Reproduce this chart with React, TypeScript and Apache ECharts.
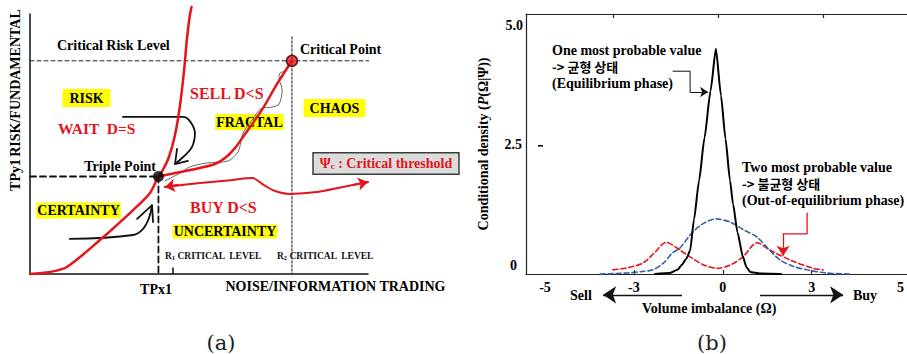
import React, { useEffect, useRef } from 'react';
import * as echarts from 'echarts';

type Pt = [number, number];

// ---------- Panel (b): conditional density of the volume imbalance ----------
const xTickLabels = ['-5', '-3', '0', '3', '5'];
const yTickValues = [0, 2.5, 5];
const yTickLabels = ['0', '2.5', '5.0'];
const topTickValues = [-3.5, 0, 3.5];

// one most probable value (equilibrium phase)
const equilibrium: Pt[] = [
  [-2.1, 0], [-1.6, 0.02], [-1.35, 0.08], [-1.2, 0.18], [-1.05, 0.3], [-0.93, 0.45],
  [-0.8, 1.05], [-0.63, 1.8], [-0.45, 2.62], [-0.25, 3.52], [-0.07, 4.33], [0.1, 3.43],
  [0.25, 2.6], [0.4, 1.8], [0.5, 1.35], [0.65, 0.8], [0.83, 0.33], [0.95, 0.13],
  [1.07, 0.04], [1.4, 0.01], [2.1, 0],
];
// wide single-peaked density
const unimodal: Pt[] = [
  [-3.93, 0], [-3.0, 0.02], [-2.5, 0.05], [-2.17, 0.08], [-1.8, 0.22], [-1.53, 0.4],
  [-1.27, 0.5], [-0.93, 0.75], [-0.55, 0.95], [-0.07, 1.06], [0.4, 1.0], [0.85, 0.85],
  [1.3, 0.71], [1.7, 0.47], [2.07, 0.27], [2.5, 0.15], [2.97, 0.08], [3.6, 0.02], [4.4, 0],
];
// two most probable values (out-of-equilibrium phase)
const bimodal: Pt[] = [
  [-3.5, 0.08], [-3.03, 0.12], [-2.5, 0.21], [-2.1, 0.42], [-1.73, 0.61], [-1.27, 0.46],
  [-0.93, 0.33], [-0.5, 0.18], [-0.03, 0.11], [0.4, 0.17], [0.83, 0.33], [1.3, 0.6],
  [1.73, 0.46], [2.4, 0.27], [3.17, 0.11], [3.5, 0.08],
];
const equilibriumNote: Pt[] = [[-1.5, 3.9], [-0.93, 3.9], [-0.93, 3.5]];
const equilibriumNoteTip: Pt[] = [[-0.93, 3.5], [-0.33, 3.5]];
const bimodalNote: Pt[] = [[2.97, 1.17], [2.97, 0.77], [2.17, 0.77]];
const bimodalNoteTip: Pt[] = [[2.17, 0.77], [2.17, 0.35]];
const sellArrow: Pt[] = [[-1.2, -0.4], [-3.83, -0.4]];
const buyArrow: Pt[] = [[1.4, -0.4], [4.17, -0.4]];

// ---------- Panel (a): phase diagram (noise/information trading vs risk), 0-100 ----------
const triplePoint: Pt = [38, 37.5];
const criticalPoint: Pt = [77.5, 82];
const criticalRiskLevel = 82;
const r1Level = 42.3;
const certaintyBoundary: Pt[] = [
  [0, 0], [5.9, 0.8], [10.9, 2.7], [20.7, 13.1], [30.5, 24.6], [35.5, 31.2], [38, 37.5],
  [39.3, 40], [41.1, 45], [42.9, 53.5], [44.4, 65], [45.6, 78.5], [46.4, 90], [47.3, 99.6],
  [47.8, 102.7],
];
const chaosBoundary: Pt[] = [
  [38, 37.5], [44.4, 39.2], [50.3, 40.8], [54.7, 42.3], [57.7, 44.6], [60.7, 48.5],
  [63, 52.7], [68.6, 63.1], [73.1, 73.1], [77.5, 82],
];
const fractalPath: Pt[] = [
  [39.9, 35.8], [44.4, 38.8], [47.3, 41.2], [52.4, 42.7], [58.6, 43.5], [61.5, 46.9],
  [62.4, 50.8], [63, 54.2], [65.7, 59.2], [68.6, 63.8], [71.6, 64.2], [73.7, 65.4],
  [74.6, 70.8], [73.7, 75.4], [74, 77.3], [75.4, 78.1], [76.9, 80.8],
];
const thresholdPath: Pt[] = [
  [39.9, 33.5], [50.3, 35], [60.1, 36.2], [65.7, 36.9], [69.2, 34.2], [72.5, 31.9],
  [76.9, 30.8], [84.9, 31.5], [92.6, 33.5], [100, 35.4],
];
const thresholdTipOut: Pt[] = [[95.5, 34.2], [100, 35.4]];
const thresholdTipIn: Pt[] = [[44, 34.3], [39.9, 33.5]];
const waitArrow: Pt[] = [[27.5, 60.4], [45.3, 60.4], [47.3, 58.8], [48.8, 54.2], [47.9, 48.8], [45.3, 45], [42.9, 42.3]];
const waitArrowHead: Pt[] = [[43.5, 48.1], [42.9, 42.3], [46.7, 43.5]];
const certaintyArrow: Pt[] = [[11.8, 13.5], [30.5, 15], [33.4, 17.3], [35.2, 21.5], [36.1, 26.5]];
const certaintyArrowHead: Pt[] = [[31.7, 21.2], [36.1, 26.5], [36.4, 20]];

const SERIF = "'Liberation Serif', serif";
const KR = "'Noto Sans CJK KR', sans-serif";
const DSERIF = "'DejaVu Serif', serif";
const RED = '#e3151b';
const YELLOW = '#ffff00';
const BLUE = '#3a5ea8';

// density axis range: 30 px per unit of imbalance
const densityMin = -6.4;
const densityMax = 6.3;

type TxtOpts = {
  fill?: string; size?: number; weight?: string; family?: string; align?: string;
  rotation?: number; bg?: string; pad?: number[]; rich?: any;
};
const txt = (text: string, x: number, y: number, o: TxtOpts = {}) => ({
  type: 'text',
  x,
  y,
  silent: true,
  rotation: o.rotation ?? 0,
  style: {
    text,
    fill: o.fill ?? '#000',
    fontSize: o.size ?? 14,
    fontWeight: o.weight ?? 'bold',
    fontFamily: o.family ?? SERIF,
    align: o.align ?? 'left',
    verticalAlign: 'middle',
    backgroundColor: o.bg,
    padding: o.pad,
    rich: o.rich,
  },
});

const line = (data: Pt[], color: string, width: number, axis: number, extra: any = {}) => ({
  type: 'line',
  xAxisIndex: axis,
  yAxisIndex: axis,
  data,
  symbol: 'none',
  silent: true,
  clip: false,
  smooth: extra.smooth ?? 0,
  smoothMonotone: extra.smoothMonotone,
  lineStyle: { color, width, type: extra.dash ?? 'solid', cap: 'round' },
  z: extra.z ?? 2,
});

const arrow = (coords: Pt[], color: string, width: number, size: number, axis: number) => ({
  type: 'lines',
  coordinateSystem: 'cartesian2d',
  xAxisIndex: axis,
  yAxisIndex: axis,
  silent: true,
  clip: false,
  symbol: ['none', 'arrow'],
  symbolSize: size,
  lineStyle: { color, width, opacity: 1, curveness: 0 },
  data: [{ coords }],
  z: 3,
});

const hidden = { show: false };
const subRich = {
  a: { fontSize: 9.5, fontWeight: 'bold', fontFamily: SERIF, fill: '#111' },
  b: { fontSize: 6.5, fontWeight: 'bold', fontFamily: SERIF, fill: '#111', verticalAlign: 'bottom' },
};

export default function App() {
  const ref = useRef<HTMLDivElement>(null);

  useEffect(() => {
    if (!ref.current) return;
    const chart = echarts.init(ref.current, undefined, { renderer: 'svg' });

    const labelStyle = { fontSize: 14, fontWeight: 'bold', fontFamily: SERIF, color: '#000' };
    const labelRich = {
      hi: { ...labelStyle, padding: [22, 0, 0, 0] },
      md: { ...labelStyle, padding: [0, 1, 0, 0] },
      lo: { ...labelStyle, padding: [0, 6, 18, 0] },
    };
    const tokens = ['lo', 'md', 'hi'];
    const frameLine = { show: true, onZero: false, lineStyle: { color: '#222', width: 1.2 } };

    const option: any = {
      animation: false,
      backgroundColor: '#ffffff',
      grid: [
        { left: 30, top: 14, width: 338, height: 260 },
        { left: 526, top: 14, width: 381, height: 260 },
        { left: 545, top: 14, width: 360, height: 260 },
      ],
      xAxis: [
        {
          gridIndex: 0, type: 'value', min: 0, max: 100,
          axisLine: { show: true, onZero: false, lineStyle: { color: '#111', width: 1.5 } },
          axisTick: hidden, axisLabel: hidden, splitLine: hidden,
        },
        {
          gridIndex: 1, type: 'value', min: densityMin, max: densityMax, position: 'top',
          axisLine: frameLine,
          axisTick: { show: true, inside: true, length: 4, customValues: topTickValues, lineStyle: { color: '#222', width: 1.2 } },
          axisLabel: hidden, splitLine: hidden,
        },
        {
          gridIndex: 2, type: 'category', data: xTickLabels, boundaryGap: false, position: 'bottom',
          axisLine: hidden,
          axisTick: {
            show: true, inside: true, length: 4,
            interval: (i: number) => i > 0 && i < xTickLabels.length - 1,
            lineStyle: { color: '#222', width: 1.2 },
          },
          axisLabel: { interval: 0, margin: 6, ...labelStyle },
          splitLine: hidden,
        },
        {
          gridIndex: 1, type: 'value', min: densityMin, max: densityMax, position: 'bottom',
          axisLine: frameLine, axisTick: hidden, axisLabel: hidden, splitLine: hidden,
        },
      ],
      yAxis: [
        {
          gridIndex: 0, type: 'value', min: 0, max: 100,
          axisLine: { show: true, onZero: false, lineStyle: { color: '#111', width: 1.5 } },
          axisTick: hidden, axisLabel: hidden, splitLine: hidden,
        },
        {
          gridIndex: 1, type: 'value', min: 0, max: 5,
          axisLine: frameLine,
          axisTick: hidden, splitLine: hidden,
          axisLabel: {
            customValues: yTickValues,
            margin: 3,
            formatter: (v: number) => {
              const i = yTickValues.indexOf(v);
              return `{${tokens[i]}|${yTickLabels[i]}}`;
            },
            rich: labelRich,
          },
          name: 'Conditional density ({i|P}(Ω|Ψ))',
          nameLocation: 'middle',
          nameRotate: 90,
          nameGap: 36,
          nameTextStyle: {
            ...labelStyle,
            rich: { i: { ...labelStyle, fontStyle: 'italic' } },
          },
        },
        { gridIndex: 2, type: 'value', show: false },
      ],
      series: [
        // ----- panel (a) -----
        line([[0, criticalRiskLevel], [101, criticalRiskLevel]], '#222', 1, 0, { dash: [4, 3] }),
        line([[criticalPoint[0], 91.2], [criticalPoint[0], 0]], '#333', 1.2, 0, { dash: [2, 2] }),
        line([[0, triplePoint[1]], triplePoint], '#111', 1.8, 0, { dash: [6, 4] }),
        line([triplePoint, [triplePoint[0], 0]], '#111', 1.8, 0, { dash: [6, 4] }),
        line([[r1Level, 0], [r1Level, 2.3]], '#111', 1.5, 0),
        line(fractalPath, '#666', 1, 0, { smooth: 0.3 }),
        line(certaintyBoundary, RED, 2.5, 0, { smooth: 0.3, z: 3 }),
        line(chaosBoundary, RED, 2.5, 0, { smooth: 0.3, z: 3 }),
        line(thresholdPath, RED, 2, 0, { smooth: 0.35, z: 3 }),
        arrow(thresholdTipOut, RED, 2, 10, 0),
        arrow(thresholdTipIn, RED, 2, 10, 0),
        line(waitArrow, '#111', 1.8, 0, { smooth: 0.4 }),
        line(waitArrowHead, '#111', 1.8, 0),
        line(certaintyArrow, '#111', 1.8, 0, { smooth: 0.4 }),
        line(certaintyArrowHead, '#111', 1.8, 0),
        {
          type: 'scatter', xAxisIndex: 0, yAxisIndex: 0, data: [triplePoint], symbolSize: 11,
          silent: true, itemStyle: { color: '#000' }, z: 5,
        },
        {
          type: 'scatter', xAxisIndex: 0, yAxisIndex: 0, data: [criticalPoint], symbolSize: 11,
          silent: true, itemStyle: { color: RED, borderColor: '#2a0000', borderWidth: 1.5 }, z: 5,
        },
        // ----- panel (b) -----
        line(bimodal, RED, 1.6, 1, { dash: [5, 3], smooth: 0.3 }),
        line(unimodal, BLUE, 1.6, 1, { dash: [5, 3], smooth: 0.3 }),
        line(equilibrium, '#000', 2, 1, { smooth: 0.2, smoothMonotone: 'x', z: 4 }),
        line(equilibriumNote, '#111', 1, 1),
        arrow(equilibriumNoteTip, '#111', 1, 8, 1),
        line(bimodalNote, RED, 1.3, 1),
        arrow(bimodalNoteTip, RED, 1.3, 10, 1),
        arrow(sellArrow, '#111', 1.3, 13, 1),
        arrow(buyArrow, '#111', 1.3, 13, 1),
      ],
      graphic: {
        elements: [
          // panel (a) texts
          txt('RISK/FUNDAMENTAL', 15, 83, { align: 'center', rotation: Math.PI / 2 }),
          txt('TPy1', 15, 175, { align: 'center', rotation: Math.PI / 2 }),
          txt('Critical Risk Level', 57, 45),
          txt('Critical Point', 300, 49),
          txt('RISK', 86.5, 98, { align: 'center', bg: YELLOW, pad: [2, 7] }),
          txt('WAIT  D=S', 58, 128, { fill: RED, size: 15.5 }),
          txt('SELL D<S', 190, 93, { fill: RED, size: 16 }),
          txt('FRACTAL', 249.5, 122, { align: 'center', bg: YELLOW, pad: [1, 1] }),
          txt('CHAOS', 334.5, 108, { align: 'center', bg: YELLOW, pad: [2, 6] }),
          txt('Triple Point', 156, 166, { align: 'right' }),
          {
            type: 'text', x: 386, y: 163.5, silent: true,
            style: {
              text: '{p|Ψ}{s|c}{t| : Critical threshold}',
              align: 'center', verticalAlign: 'middle',
              backgroundColor: '#dcdcdc', borderColor: '#3c3c3c', borderWidth: 1.5, padding: [3, 6],
              rich: {
                p: { fill: RED, fontSize: 14, fontWeight: 'bold', fontFamily: SERIF },
                s: { fill: RED, fontSize: 9, fontWeight: 'bold', fontFamily: SERIF, verticalAlign: 'bottom' },
                t: { fill: RED, fontSize: 14, fontWeight: 'bold', fontFamily: SERIF },
              },
            },
          },
          txt('CERTAINTY', 78.5, 210.5, { align: 'center', bg: YELLOW, pad: [1, 1] }),
          txt('BUY D<S', 190, 207, { fill: RED, size: 16 }),
          txt('UNCERTAINTY', 225, 231.5, { align: 'center', bg: YELLOW, pad: [0, 1] }),
          txt('{a|R}{b|1}{a| CRITICAL  LEVEL}', 165, 256, { size: 9.5, rich: subRich }),
          txt('{a|R}{b|2}{a| CRITICAL  LEVEL}', 277, 256, { size: 9.5, rich: subRich }),
          txt('TPx1', 156, 289, { align: 'center' }),
          txt('NOISE/INFORMATION TRADING', 335.5, 286, { align: 'center' }),
          txt('(a)', 221, 343, { align: 'center', size: 21, weight: 'normal', family: DSERIF, fill: '#222' }),
          // panel (b) texts
          txt('One most probable value', 552, 50),
          txt('-> 균형 상태', 552, 66, { family: KR, size: 13, weight: 'bold' }),
          txt('(Equilibrium phase)', 552, 83),
          txt('Two most probable value', 742, 167),
          txt('-> 불균형 상태', 742, 183, { family: KR, size: 13, weight: 'bold' }),
          txt('(Out-of-equilibrium phase)', 742, 200),
          txt('Sell', 570, 295),
          txt('Buy', 853, 295),
          txt('Volume imbalance (Ω)', 642, 308),
          txt('(b)', 712, 343, { align: 'center', size: 21, weight: 'normal', family: DSERIF, fill: '#222' }),
          { type: 'rect', x: 538, y: 145, silent: true, shape: { width: 5, height: 1.6 }, style: { fill: '#111' } },
        ],
      },
    };

    chart.setOption(option);
    return () => chart.dispose();
  }, []);

  return (
    <div
      ref={ref}
      style={{ position: 'absolute', left: 0, top: 0, width: 907, height: 354, background: '#fff' }}
    />
  );
}
